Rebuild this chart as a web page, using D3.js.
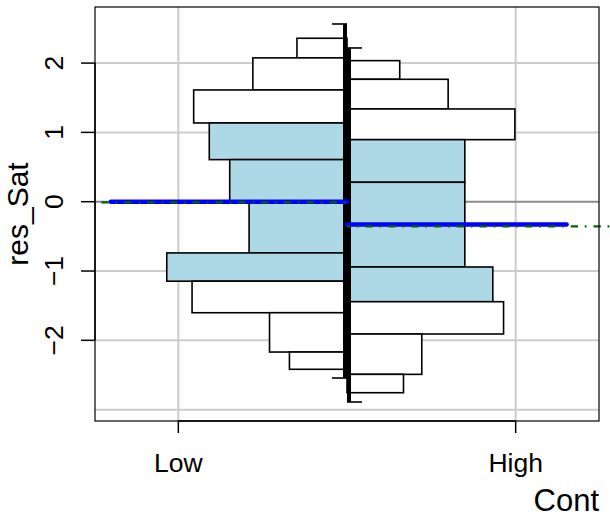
<!DOCTYPE html>
<html>
<head>
<meta charset="utf-8">
<script src="https://cdn.jsdelivr.net/npm/d3@7"></script>
<style>
  html, body { margin: 0; padding: 0; background: #fff; }
  svg { display: block; font-family: "Liberation Sans", Arial, Helvetica, sans-serif; }
</style>
</head>
<body>
<script>
// ---- data ----
const categories = ["Low", "High"];
const yTicks = [-2, -1, 0, 1, 2];
const yGrid = [-3, -2, -1, 1, 2];
const lowBreaks = [2.358, 2.075, 1.612, 1.136, 0.607, 0, -0.739, -1.147, -1.602, -2.169, -2.418];
const lowDensity = [0.093, 0.175, 0.285, 0.256, 0.218, 0.182, 0.335, 0.288, 0.144, 0.107];
const highBreaks = [2.035, 1.766, 1.338, 0.895, 0.280, -0.330, -0.942, -1.443, -1.909, -2.491, -2.756];
const highDensity = [0.098, 0.188, 0.312, 0.219, 0.219, 0.219, 0.271, 0.291, 0.139, 0.105];
const innerBins = [0, 0, 0, 1, 1, 1, 1, 0, 0, 0];
const groupMax = [2.564, 2.218];
const groupMin = [-2.544, -2.890];
const medians = [0, -0.330];
const medianFrom = [0.80, 2.151];
const means = [-0.009, -0.355];
const meanFrom = [0.772, 2.32];
const xLabel = "Cont";
const yLabel = "res_Sat";

// ---- layout ----
const W = 610, H = 517;
const plot = { left: 95, right: 599, top: 7, bottom: 421 };

const svg = d3.select("body").append("svg").attr("width", W).attr("height", H);

const x = d3.scaleLinear().domain([0.753, 2.247]).range([plot.left, plot.right]);
const y = d3.scaleLinear().domain([-3.164, 2.809]).range([plot.bottom, plot.top]);
const dens = d3.scaleLinear().domain([0, 1]).range([0, 538]);
const center = 1.5;
const cx = x(center);

// grid
const grid = svg.append("g");
grid.selectAll("line.v").data([1, 2]).enter().append("line")
  .attr("x1", d => x(d)).attr("x2", d => x(d))
  .attr("y1", plot.top).attr("y2", plot.bottom)
  .attr("stroke", "#cccccc").attr("stroke-width", 2);
grid.selectAll("line.h").data(yGrid).enter().append("line")
  .attr("x1", plot.left).attr("x2", plot.right)
  .attr("y1", d => y(d)).attr("y2", d => y(d))
  .attr("stroke", "#cccccc").attr("stroke-width", 2);
grid.append("line")
  .attr("x1", plot.left).attr("x2", plot.right)
  .attr("y1", y(0)).attr("y2", y(0))
  .attr("stroke", "#8c8c8c").attr("stroke-width", 2);

// bars
function bins(breaks, density) {
  return density.map((d, i) => ({ top: breaks[i], bottom: breaks[i + 1], d, inner: innerBins[i] }));
}
const lowBins = bins(lowBreaks, lowDensity);
const highBins = bins(highBreaks, highDensity);

svg.append("g").selectAll("rect").data(lowBins).enter().append("rect")
  .attr("x", d => cx - dens(d.d)).attr("width", d => dens(d.d))
  .attr("y", d => y(d.top)).attr("height", d => y(d.bottom) - y(d.top))
  .attr("fill", d => d.inner ? "#ADD8E6" : "#ffffff")
  .attr("stroke", "#000").attr("stroke-width", 1.6);
svg.append("g").selectAll("rect").data(highBins).enter().append("rect")
  .attr("x", cx).attr("width", d => dens(d.d))
  .attr("y", d => y(d.top)).attr("height", d => y(d.bottom) - y(d.top))
  .attr("fill", d => d.inner ? "#ADD8E6" : "#ffffff")
  .attr("stroke", "#000").attr("stroke-width", 1.6);

// range lines and end ticks
[0, 1].forEach(i => {
  const side = i === 0 ? -1 : 1;
  const lx = cx + side * 2;
  svg.append("line")
    .attr("x1", lx).attr("x2", lx)
    .attr("y1", y(groupMax[i])).attr("y2", y(groupMin[i]))
    .attr("stroke", "#000").attr("stroke-width", 4);
  [groupMax[i], groupMin[i]].forEach(v => {
    svg.append("line")
      .attr("x1", cx).attr("x2", cx + side * 15)
      .attr("y1", y(v)).attr("y2", y(v))
      .attr("stroke", "#000").attr("stroke-width", 1.6);
  });
});

// median (blue) and mean (green dot-dash)
[0, 1].forEach(i => {
  svg.append("line")
    .attr("x1", x(medianFrom[i])).attr("x2", cx)
    .attr("y1", y(medians[i])).attr("y2", y(medians[i]))
    .attr("stroke", "#0000ff").attr("stroke-width", 4.5).attr("stroke-linecap", "round");
});
[0, 1].forEach(i => {
  svg.append("line")
    .attr("x1", x(meanFrom[i])).attr("x2", cx)
    .attr("y1", y(means[i])).attr("y2", y(means[i]))
    .attr("stroke", "#006400").attr("stroke-width", 2.3)
    .attr("stroke-dasharray", "7.3,7,1.8,6.7");
});

// box
svg.append("rect")
  .attr("x", plot.left).attr("y", plot.top)
  .attr("width", plot.right - plot.left).attr("height", plot.bottom - plot.top)
  .attr("fill", "none").attr("stroke", "#000").attr("stroke-width", 1.2);

// y axis
const yAxis = svg.append("g");
yAxis.append("line").attr("x1", plot.left).attr("x2", plot.left)
  .attr("y1", y(d3.min(yTicks))).attr("y2", y(d3.max(yTicks)))
  .attr("stroke", "#000").attr("stroke-width", 1.5);
yAxis.selectAll("line.t").data(yTicks).enter().append("line")
  .attr("x1", plot.left - 14).attr("x2", plot.left)
  .attr("y1", d => y(d)).attr("y2", d => y(d))
  .attr("stroke", "#000").attr("stroke-width", 1.5);
yAxis.selectAll("text").data(yTicks).enter().append("text")
  .attr("transform", d => `translate(62.5,${y(d)}) rotate(-90)`)
  .attr("text-anchor", "middle")
  .attr("font-size", 26.5)
  .text(d => d < 0 ? "\u2212" + Math.abs(d) : String(d));

// x axis
const xAxis = svg.append("g");
xAxis.append("line").attr("x1", x(1)).attr("x2", x(2))
  .attr("y1", plot.bottom).attr("y2", plot.bottom)
  .attr("stroke", "#000").attr("stroke-width", 1.5);
xAxis.selectAll("line.t").data(categories).enter().append("line")
  .attr("x1", (d, i) => x(i + 1)).attr("x2", (d, i) => x(i + 1))
  .attr("y1", plot.bottom).attr("y2", plot.bottom + 12)
  .attr("stroke", "#000").attr("stroke-width", 1.5);
xAxis.selectAll("text").data(categories).enter().append("text")
  .attr("x", (d, i) => x(i + 1)).attr("y", 472)
  .attr("text-anchor", "middle").attr("font-size", 26.5)
  .text(d => d);

// axis titles
svg.append("text").attr("x", plot.right).attr("y", 511)
  .attr("text-anchor", "end").attr("font-size", 31).text(xLabel);
svg.append("text")
  .attr("transform", `translate(28,${(plot.top + plot.bottom) / 2}) rotate(-90)`)
  .attr("text-anchor", "middle").attr("font-size", 30).text(yLabel);
</script>
</body>
</html>
